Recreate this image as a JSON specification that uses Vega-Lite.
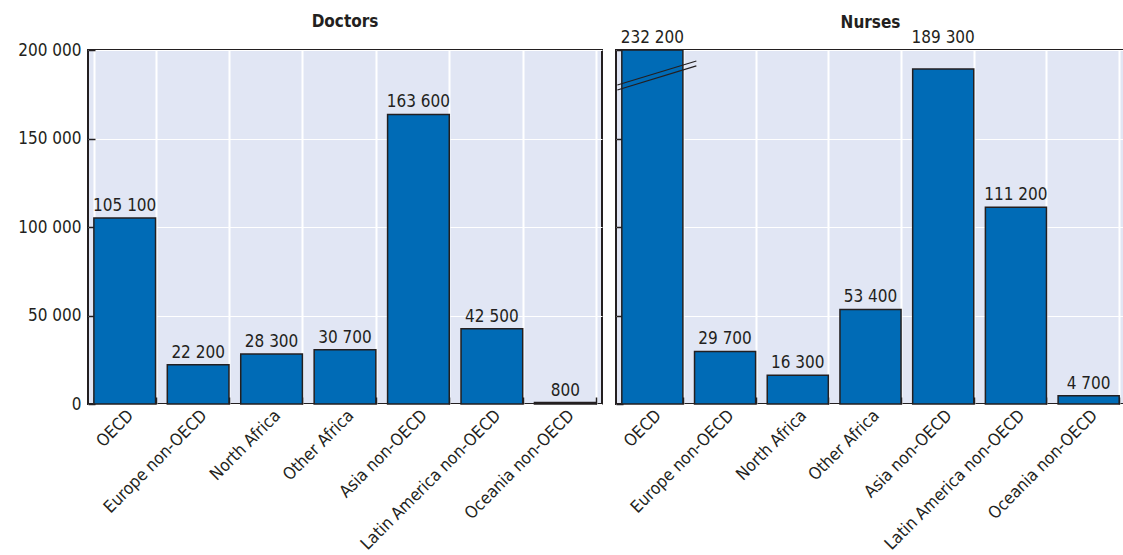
{
  "$schema": "https://vega.github.io/schema/vega-lite/v6.json",
  "padding": {"left": 16, "top": 12, "right": 0, "bottom": 0},
  "background": "white",
  "bounds": "flush",
  "config": {
    "font": "Liberation Sans Narrow, DejaVu Sans Condensed, Roboto",
    "locale": {"number": {"decimal": ".", "thousands": " ", "grouping": [3], "currency": ["", ""]}},
    "view": {"fill": "#e1e6f4", "stroke": "#231f20", "strokeWidth": 2},
    "title": {"fontSize": 17, "fontWeight": "bold", "color": "#231f20", "anchor": "middle"},
    "axis": {"labelFontSize": 17, "labelColor": "#231f20", "titleColor": "#231f20", "labelLimit": 400}
  },
  "datasets": {
    "main": [
      {"type": "Doctors", "region": "OECD", "value": 105100},
      {"type": "Doctors", "region": "Europe non-OECD", "value": 22200},
      {"type": "Doctors", "region": "North Africa", "value": 28300},
      {"type": "Doctors", "region": "Other Africa", "value": 30700},
      {"type": "Doctors", "region": "Asia non-OECD", "value": 163600},
      {"type": "Doctors", "region": "Latin America non-OECD", "value": 42500},
      {"type": "Doctors", "region": "Oceania non-OECD", "value": 800},
      {"type": "Nurses", "region": "OECD", "value": 232200},
      {"type": "Nurses", "region": "Europe non-OECD", "value": 29700},
      {"type": "Nurses", "region": "North Africa", "value": 16300},
      {"type": "Nurses", "region": "Other Africa", "value": 53400},
      {"type": "Nurses", "region": "Asia non-OECD", "value": 189300},
      {"type": "Nurses", "region": "Latin America non-OECD", "value": 111200},
      {"type": "Nurses", "region": "Oceania non-OECD", "value": 4700}
    ],
    "breaks": [
      {"region": "OECD", "y1": 180200, "y2": 193800},
      {"region": "OECD", "y1": 177400, "y2": 191000}
    ]
  },
  "spacing": 14,
  "hconcat": [
    {
      "width": 514,
      "height": 354,
      "title": {"text": "Doctors", "offset": 10},
      "data": {"name": "main"},
      "transform": [{"filter": "datum.type === 'Doctors'"}],
      "encoding": {
        "x": {
          "field": "region", "type": "nominal", "sort": null,
          "scale": {"paddingInner": 0.16, "paddingOuter": 0.08},
          "axis": {"title": null, "labelAngle": -45, "tickBand": "extent", "tickSize": -7, "tickColor": "#231f20", "tickWidth": 1.5,
                   "grid": true, "gridColor": "white", "gridWidth": 2, "domain": false, "labelPadding": 10}
        },
        "y": {
          "field": "value", "type": "quantitative",
          "scale": {"domain": [0, 200000], "nice": false, "clamp": true},
          "axis": {"title": null, "values": [0, 50000, 100000, 150000, 200000], "labelExpr": "format(datum.value, ',')", "tickSize": -7, "tickColor": "#231f20", "tickWidth": 1.5,
                   "grid": true, "gridColor": "white", "gridWidth": 1, "domain": false, "labelPadding": 14}
        }
      },
      "layer": [
        {"mark": {"type": "bar", "color": "#006bb6", "stroke": "#231f20", "strokeWidth": 1.5}},
        {"mark": {"type": "text", "baseline": "bottom", "dy": -3, "fontSize": 17, "color": "#231f20"},
         "encoding": {"text": {"field": "value", "type": "quantitative", "format": ","}}}
      ]
    },
    {
      "width": 509,
      "height": 354,
      "title": {"text": "Nurses", "offset": -3},
      "encoding": {
        "x": {
          "field": "region", "type": "nominal", "sort": null,
          "scale": {"paddingInner": 0.16, "paddingOuter": 0.08},
          "axis": {"title": null, "labelAngle": -45, "tickBand": "extent", "tickSize": -7, "tickColor": "#231f20", "tickWidth": 1.5,
                   "grid": true, "gridColor": "white", "gridWidth": 2, "domain": false, "labelPadding": 10}
        },
        "y": {
          "field": "value", "type": "quantitative",
          "scale": {"domain": [0, 200000], "nice": false, "clamp": true},
          "axis": {"title": null, "values": [0, 50000, 100000, 150000, 200000], "labels": false, "tickSize": -7, "tickColor": "#231f20", "tickWidth": 1.5,
                   "grid": true, "gridColor": "white", "gridWidth": 1, "domain": false}
        }
      },
      "layer": [
        {"data": {"name": "main"}, "transform": [{"filter": "datum.type === 'Nurses'"}],
         "mark": {"type": "bar", "color": "#006bb6", "stroke": "#231f20", "strokeWidth": 1.5}},
        {"data": {"name": "main"},
         "transform": [{"filter": "datum.type === 'Nurses'"}, {"calculate": "datum.value > 180000 ? 200000 : datum.value", "as": "labelY"}],
         "mark": {"type": "text", "baseline": "bottom", "dy": -3, "fontSize": 17, "color": "#231f20"},
         "encoding": {
           "y": {"field": "labelY", "type": "quantitative"},
           "text": {"field": "value", "type": "quantitative", "format": ","}}},
        {"data": {"name": "breaks"},
         "mark": {"type": "rule", "color": "#231f20", "strokeWidth": 1.2, "xOffset": -35, "x2Offset": 44},
         "encoding": {
           "x": {"field": "region", "type": "nominal"},
           "x2": {"field": "region"},
           "y": {"field": "y1", "type": "quantitative"},
           "y2": {"field": "y2"}
         }}
      ]
    }
  ]
}
